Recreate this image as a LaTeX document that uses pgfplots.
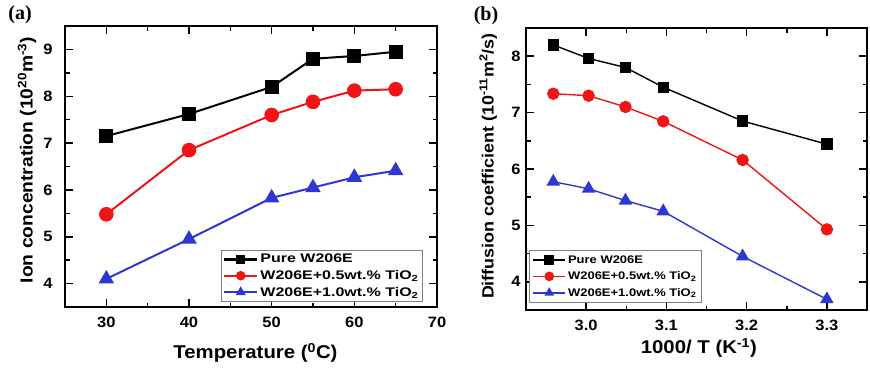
\documentclass[border=0pt]{standalone}
\usepackage{fontspec}
\setmainfont[FakeStretch=1.1]{Liberation Sans}
\newfontfamily\legA[FakeStretch=1.28]{Liberation Sans}
\newfontfamily\legB[FakeStretch=1.18]{Liberation Sans}
\newfontfamily\seriffont{Liberation Serif}
\usepackage{pgfplots}
\pgfplotsset{compat=1.18}
\definecolor{myred}{RGB}{240,20,20}
\definecolor{myblue}{RGB}{45,55,210}
\begin{document}
\begin{tikzpicture}[x=1pt,y=1pt]
\useasboundingbox (0,0) rectangle (870,368);
\pgfplotsset{
  every axis/.append style={
    scale only axis,
    axis line style={line width=2.2pt},
    every tick/.style={line width=1.5pt, black},
    tick align=inside,
    major tick length=8pt, minor tick length=4.5pt,
    /pgf/number format/assume math mode=true,
    ticklabel style={font=\bfseries\fontsize{15}{15}\selectfont},
    label style={font=\bfseries\fontsize{18.5}{18.5}\selectfont},
    legend cell align=left,
  }
}
\begin{axis}[
  at={(65pt,61pt)}, anchor=south west,
  width=372pt, height=281pt,
  xmin=25, xmax=70, ymin=3.5, ymax=9.5,
  xtick={30,40,50,60,70}, ytick={4,5,6,7,8,9},
  minor x tick num=1, minor y tick num=1,
  xticklabel style={yshift=-6pt},
  yticklabel style={xshift=-9pt},
  xlabel={Temperature (\textsuperscript{0}C)},
  ylabel={Ion concentration (10\textsuperscript{20}m\textsuperscript{-3})},
  xlabel style={at={(axis description cs:0.512,-0.164)}, anchor=center},
  ylabel style={at={(axis description cs:-0.102,0.523)}, anchor=center, font=\bfseries\fontsize{17.5}{17.5}\selectfont},
  legend image code/.code={\draw[mark repeat=2,mark phase=2, mark size=3.5pt, line width=2.4pt] plot coordinates {(0pt,0pt) (16.5pt,0pt) (33pt,0pt)};},
  legend style={at={(rel axis cs:0.962,0.018)}, anchor=south east, draw=gray, line width=0.8pt,
    font=\legA\bfseries\fontsize{12.5}{13}\selectfont, row sep=2pt, inner sep=2pt},
]
\addplot[black, line width=2pt, mark=square*, mark size=6pt] coordinates {(30,7.15) (40,7.62) (50,8.2) (55,8.8) (60,8.86) (65,8.95)};
\addlegendentry{Pure W206E}
\addplot[myred, line width=2pt, mark=*, mark size=6.3pt] coordinates {(30,5.48) (40,6.85) (50,7.6) (55,7.88) (60,8.12) (65,8.15)};
\addlegendentry{W206E+0.5wt.\% TiO\textsubscript{2}}
\addplot[myblue, line width=2pt, mark=triangle*, mark size=7pt] coordinates {(30,4.1) (40,4.95) (50,5.83) (55,6.05) (60,6.27) (65,6.41)};
\addlegendentry{W206E+1.0wt.\% TiO\textsubscript{2}}
\end{axis}
\begin{axis}[
  at={(526pt,58pt)}, anchor=south west,
  width=341pt, height=282pt,
  xmin=2.925, xmax=3.35, ymin=3.5, ymax=8.5,
  xtick={3.0,3.1,3.2,3.3}, ytick={4,5,6,7,8},
  minor x tick num=1, minor y tick num=1,
  xticklabel style={yshift=-6pt, /pgf/number format/.cd, fixed, fixed zerofill, precision=1},
  yticklabel style={xshift=-2pt},
  xlabel={1000/ T (K\textsuperscript{-1})},
  ylabel={Diffusion coefficient (10\textsuperscript{-11}m\textsuperscript{2}/s)},
  xlabel style={at={(axis description cs:0.507,-0.135)}, anchor=center},
  ylabel style={at={(axis description cs:-0.111,0.51)}, anchor=center, font=\bfseries\fontsize{16.3}{16.3}\selectfont},
  legend image code/.code={\draw[mark repeat=2,mark phase=2, mark size=4pt, line width=1.6pt] plot coordinates {(0pt,0pt) (16pt,0pt) (32pt,0pt)};},
  legend style={at={(rel axis cs:0.009,0.025)}, anchor=south west, draw=gray, line width=0.8pt,
    font=\legB\bfseries\fontsize{11}{12}\selectfont, row sep=3pt, inner sep=3pt},
]
\addplot[black, line width=1.4pt, mark=square*, mark size=5pt] coordinates {(2.959,8.2) (3.003,7.96) (3.049,7.8) (3.096,7.45) (3.195,6.85) (3.30,6.44)};
\addlegendentry{Pure W206E}
\addplot[myred, line width=1.4pt, mark=*, mark size=5.5pt] coordinates {(2.959,7.335) (3.003,7.30) (3.049,7.10) (3.096,6.845) (3.195,6.16) (3.30,4.93)};
\addlegendentry{W206E+0.5wt.\% TiO\textsubscript{2}}
\addplot[myblue, line width=1.4pt, mark=triangle*, mark size=6.5pt] coordinates {(2.959,5.775) (3.003,5.65) (3.049,5.44) (3.096,5.25) (3.195,4.45) (3.30,3.69)};
\addlegendentry{W206E+1.0wt.\% TiO\textsubscript{2}}
\end{axis}
\node[font=\seriffont\bfseries\fontsize{20}{20}\selectfont] at (20,353) {(a)};
\node[font=\seriffont\bfseries\fontsize{20}{20}\selectfont] at (486,352) {(b)};
\end{tikzpicture}
\end{document}
